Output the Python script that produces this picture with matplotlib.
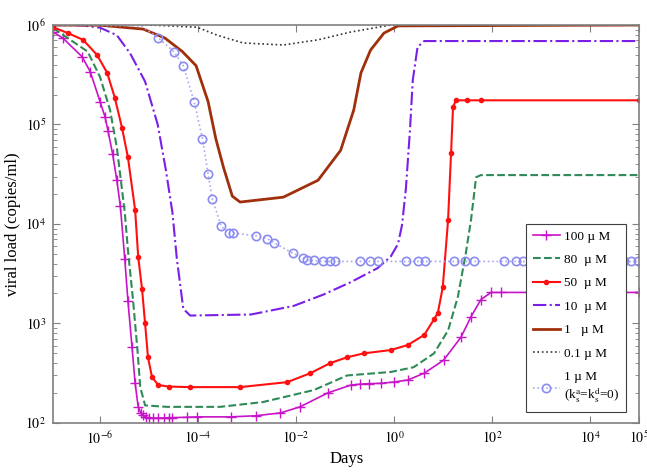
import matplotlib
matplotlib.use("Agg")
import matplotlib.pyplot as plt
from matplotlib.ticker import NullLocator

plt.rcParams['font.family'] = ['Liberation Serif', 'DejaVu Serif']
plt.rcParams['mathtext.fontset'] = 'stix'

# --- data (days, copies/ml) ---
t_100 = [1.1e-7, 1.74e-7, 4.3e-7, 6.3e-7, 1e-6, 1.26e-6, 1.45e-6, 1.8e-6, 2.2e-6, 2.6e-6,
         3.2e-6, 3.7e-6, 4.5e-6, 5.2e-6, 6.0e-6, 6.8e-6, 7.6e-6, 8.5e-6, 1.0e-5, 1.2e-5,
         1.5e-5, 2.0e-5, 2.5e-5, 3.0e-5, 6e-5, 9.5e-5, 4.6e-4, 1.5e-3, 4.8e-3, 0.012,
         0.044, 0.13, 0.2, 0.3, 0.54, 1.0, 1.9, 4.1, 10.2, 23, 37, 59, 95, 150, 1e5]
v_100 = [8.5e5, 7.4e5, 4.8e5, 3.4e5, 1.7e5, 1.2e5, 8.7e4, 5.1e4, 2.75e4, 1.5e4,
         4.4e3, 1.7e3, 575, 250, 145, 125, 120, 115, 112, 112,
         112, 112, 113, 113, 114, 115, 115, 118, 126, 145,
         200, 240, 245, 248, 250, 258, 270, 316, 427, 725, 1.17e3, 1.74e3, 2.05e3, 2.05e3, 2.05e3]

t_80 = [1.1e-7, 5.6e-7, 1e-6, 1.6e-6, 2.2e-6, 3.2e-6, 3.7e-6, 4.7e-6, 5.8e-6, 6.6e-6, 8.3e-6,
        2.3e-5, 2.8e-4, 2.1e-3, 0.023, 0.11, 0.85, 2.5, 6.5, 12.6, 20, 29, 37, 47, 59, 1e5]
v_80 = [9.3e5, 5.4e5, 3.0e5, 1.4e5, 5.9e4, 1.3e4, 5.5e3, 1.74e3, 540, 230, 150,
        145, 145, 162, 214, 300, 325, 363, 500, 850, 1.86e3, 5.1e3, 1.1e4, 2.95e4, 3.1e4, 3.1e4]

t_50 = [1.1e-7, 2.2e-7, 4.5e-7, 8.7e-7, 1.4e-6, 2.0e-6, 2.8e-6, 3.7e-6, 5.2e-6, 6.0e-6,
        7.2e-6, 8.3e-6, 9.5e-6, 1.15e-5, 1.55e-5, 2.5e-5, 6.9e-5, 7.2e-4, 6.6e-3, 0.0195,
        0.05, 0.11, 0.24, 0.85, 1.9, 4.1, 6.5, 7.8, 9.8, 12.6, 14.5, 15.9, 18.2, 30, 60, 1e5]
v_50 = [9.5e5, 8.3e5, 7.1e5, 5.0e5, 3.3e5, 1.86e5, 9.3e4, 4.7e4, 1.38e4, 4.7e3,
        2.2e3, 1.0e3, 457, 288, 240, 232, 229, 229, 257, 316,
        400, 457, 500, 540, 607, 765, 1.1e3, 1.28e3, 2.3e3, 1.1e4, 5.2e4, 1.5e5, 1.75e5, 1.75e5, 1.75e5, 1.75e5]

t_10 = [1.1e-7, 4.5e-7, 1e-6, 2.2e-6, 4.1e-6, 8.3e-6, 1.5e-5, 2.2e-5, 3.0e-5, 3.7e-5, 5.0e-5,
        6.9e-5, 1.2e-3, 8.9e-3, 0.036, 0.13, 0.46, 0.85, 1.2, 1.45, 1.74, 2.1, 2.4, 3.0, 4.1, 1e5]
v_10 = [1e6, 9.9e5, 9.4e5, 7.9e5, 5.2e5, 2.7e5, 1e5, 3.5e4, 1.3e4, 4.4e3, 1.4e3,
        1.2e3, 1.23e3, 1.5e3, 1.95e3, 2.6e3, 3.6e3, 4.7e3, 6.3e3, 9.8e3, 2.3e4, 8.7e4, 2.8e5, 6.0e5, 6.9e5, 6.9e5]

t_1 = [1.1e-7, 1e-6, 7.6e-6, 2.1e-5, 4.8e-5, 9.1e-5, 1.6e-4, 2.3e-4, 3.3e-4, 5.0e-4, 7.2e-4,
       5.5e-3, 0.028, 0.081, 0.15, 0.21, 0.33, 0.62, 1.2, 1e5]
v_1 = [1e6, 9.95e5, 9.1e5, 7.4e5, 5.4e5, 3.9e5, 1.7e5, 7.2e4, 3.7e4, 1.9e4, 1.66e4,
       1.86e4, 2.75e4, 5.5e4, 1.4e5, 3.3e5, 5.6e5, 8.3e5, 9.8e5, 1e6]

t_01 = [1.1e-7, 1.05e-5, 9.5e-5, 2.45e-4, 8.3e-4, 5.5e-3, 0.028, 0.13, 0.85, 1e5]
v_01 = [1e6, 1e6, 9.5e5, 7.9e5, 6.6e5, 6.3e5, 7.1e5, 8.5e5, 1e6, 1e6]

t_1k0 = [1.1e-7, 7e-6, 1.55e-5, 3.2e-5, 5.0e-5, 8.3e-5, 1.23e-4, 1.6e-4, 1.95e-4, 2.95e-4,
         4.2e-4, 5.2e-4, 1.55e-3, 2.6e-3, 3.5e-3, 8.5e-3, 0.0135, 0.017, 0.023, 0.035,
         0.048, 0.062, 0.2, 0.32, 0.46, 1.74, 3.0, 4.3, 16.6, 27.5, 43, 174, 309, 427,
         5.0e4, 6.9e4, 9.5e4]
v_1k0 = [1e6, 9.8e5, 7.4e5, 5.4e5, 3.9e5, 1.7e5, 7.2e4, 3.2e4, 1.8e4, 9.5e3,
         8.1e3, 8.1e3, 7.6e3, 7.1e3, 6.5e3, 5.1e3, 4.6e3, 4.3e3, 4.3e3, 4.2e3,
         4.2e3, 4.2e3, 4.2e3, 4.2e3, 4.2e3, 4.2e3, 4.2e3, 4.2e3, 4.2e3, 4.2e3, 4.2e3, 4.2e3, 4.2e3, 4.2e3,
         4.2e3, 4.2e3, 4.2e3]

xticks = [1e-6, 1e-4, 1e-2, 1e0, 1e2, 1e4, 1e5]
xtick_labels = ['$10^{-6}$', '$10^{-4}$', '$10^{-2}$', '$10^{0}$', '$10^{2}$', '$10^{4}$', '$10^{5}$']
yticks = [1e2, 1e3, 1e4, 1e5, 1e6]
ytick_labels = ['$10^{2}$', '$10^{3}$', '$10^{4}$', '$10^{5}$', '$10^{6}$']

fig = plt.figure(figsize=(6.47, 4.72), dpi=100)
ax = fig.add_axes([0.082, 0.104, 0.906, 0.843])

ax.plot(t_100, v_100, color='#c814c8', lw=1.2, marker='+', ms=7, mew=1.0, label='100 µ M')
ax.plot(t_80, v_80, color='#2e8b57', lw=1.5, ls='--', label='80  µ M')
ax.plot(t_50, v_50, color='#ff1010', lw=1.5, marker='.', ms=6, label='50  µ M')
ax.plot(t_10, v_10, color='#7a1fe8', lw=1.5, ls='-.', label='10  µ M')
ax.plot(t_1, v_1, color='#a0300c', lw=2.0, label='1   µ M')
ax.plot(t_01, v_01, color='#333333', lw=1.2, ls=':', label='0.1 µ M')
ax.plot(t_1k0, v_1k0, color='#a8a8f0', lw=1.2, ls=':', marker='o', ms=6, mfc='none',
        mec='#8c8cf0', mew=1.2, markevery=list(range(2, len(t_1k0))),
        label='1 µ M\n(k$_\\mathrm{s}^\\mathrm{a}$=k$_\\mathrm{s}^\\mathrm{d}$=0)')

ax.set_xscale('log')
ax.set_yscale('log')
ax.set_xlim(1.1e-7, 1e5)
ax.set_ylim(1e2, 1e6)
ax.set_xticks(xticks)
ax.set_xticklabels(xtick_labels)
ax.xaxis.set_minor_locator(NullLocator())
ax.set_yticks(yticks)
ax.set_yticklabels(ytick_labels)

ax.tick_params(which='both', direction='in', top=True, right=True, color='#808080',
               labelsize=10, pad=5)
ax.tick_params(which='major', length=5)
ax.tick_params(which='minor', length=3)
for s in ax.spines.values():
    s.set_color('#808080')
    s.set_linewidth(1.2)

ax.set_xlabel('Days', fontsize=12, labelpad=3)
ax.set_ylabel('viral load (copies/ml)', fontsize=12, labelpad=3)

leg = ax.legend(loc='lower right', bbox_to_anchor=(0.978, 0.028), fontsize=9.5,
                handlelength=2.1, labelspacing=0.85, fancybox=False, framealpha=1,
                edgecolor='#404040', borderpad=0.5, handletextpad=0.3, borderaxespad=0)
leg.get_frame().set_linewidth(0.8)

fig.savefig('out.png', dpi=100)
